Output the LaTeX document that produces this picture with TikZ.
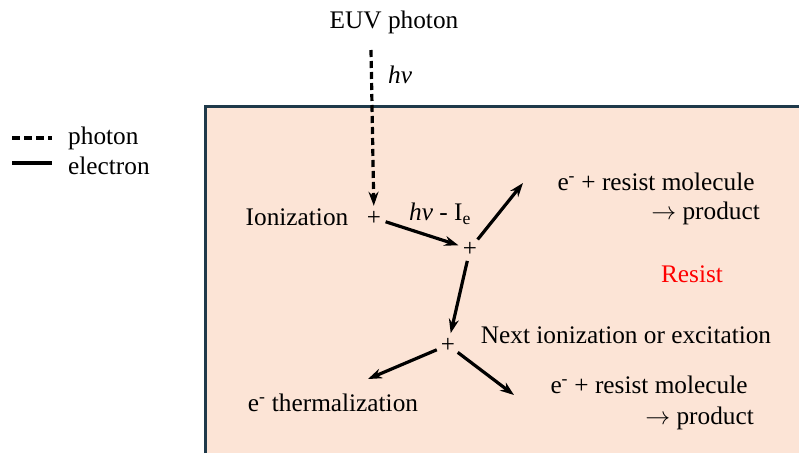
\documentclass[tikz,border=0pt]{standalone}
\usepackage{fontspec}
\setmainfont{Liberation Serif}
\usetikzlibrary{arrows.meta}
\definecolor{resistfill}{HTML}{FCE4D6}
\definecolor{boxline}{HTML}{1F3A4A}
\begin{document}
\begin{tikzpicture}[x=1pt,y=-1pt,
  lbl/.style={font=\fontsize{25.3}{29}\selectfont, inner sep=0pt},
  plusnode/.style={circle, minimum size=24pt, inner sep=0pt, font=\fontsize{25}{28}\selectfont},
  elec/.style={line width=3.2pt, -{Stealth[length=14pt,width=10pt]}},
  phot/.style={line width=3.2pt, dash pattern=on 7pt off 4pt, -{Stealth[length=14pt,width=10pt]}},
  legline/.style={line width=3.2pt}]
\useasboundingbox (0,0) rectangle (799,453);
% resist box
\fill[resistfill] (205,106) rectangle (799,453);
\draw[boxline, line width=3pt] (205,453) -- (205,106) -- (799,106);

% legend
\coordinate (la) at (12,138); \coordinate (lb) at (52,138);
\coordinate (lc) at (12,163); \coordinate (ld) at (52,163);
\draw[legline, dash pattern=on 8pt off 4pt] (la) -- (lb);
\draw[legline] (lc) -- (ld);
\node[lbl, anchor=west] (lphot) at (68,138) {photon};
\node[lbl, anchor=west] (lelec) at (68,166) {electron};

% texts
\node[lbl] (euv) at (394,22) {EUV photon};
\node[lbl, anchor=west] (hnu) at (388,75) {\textit{hν}};
\node[lbl] (ion) at (297,217) {Ionization};
\node[lbl] (hnuie) at (440,214) {\textit{hν} - I\textsubscript{e}};
\node[lbl] (top1) at (656,182) {e\textsuperscript{-} + resist molecule};
\node[lbl, anchor=east] (top2) at (760,213) {$\rightarrow$ product};
\node[lbl, text=red] (resist) at (692,274) {Resist};
\node[lbl] (next) at (626,335) {Next ionization or excitation};
\node[lbl] (therm) at (333,403) {e\textsuperscript{-} thermalization};
\node[lbl] (bot1) at (649,385) {e\textsuperscript{-} + resist molecule};
\node[lbl, anchor=east] (bot2) at (754,418) {$\rightarrow$ product};

% interaction points
\node[plusnode] (p1) at (374,218) {+};
\node[plusnode] (p2) at (470,249) {+};
\node[plusnode] (p3) at (448,345) {+};

\coordinate (src) at (371,50);
\coordinate (e1) at (523,183);
\coordinate (e2) at (368,379);
\coordinate (e3) at (514,395);

\draw[phot] (src) -- (p1);
\draw[elec] (p1) -- (p2);
\draw[elec] (p2) -- (e1);
\draw[elec] (p2) -- (p3);
\draw[elec] (p3) -- (e2);
\draw[elec] (p3) -- (e3);
\end{tikzpicture}
\end{document}
